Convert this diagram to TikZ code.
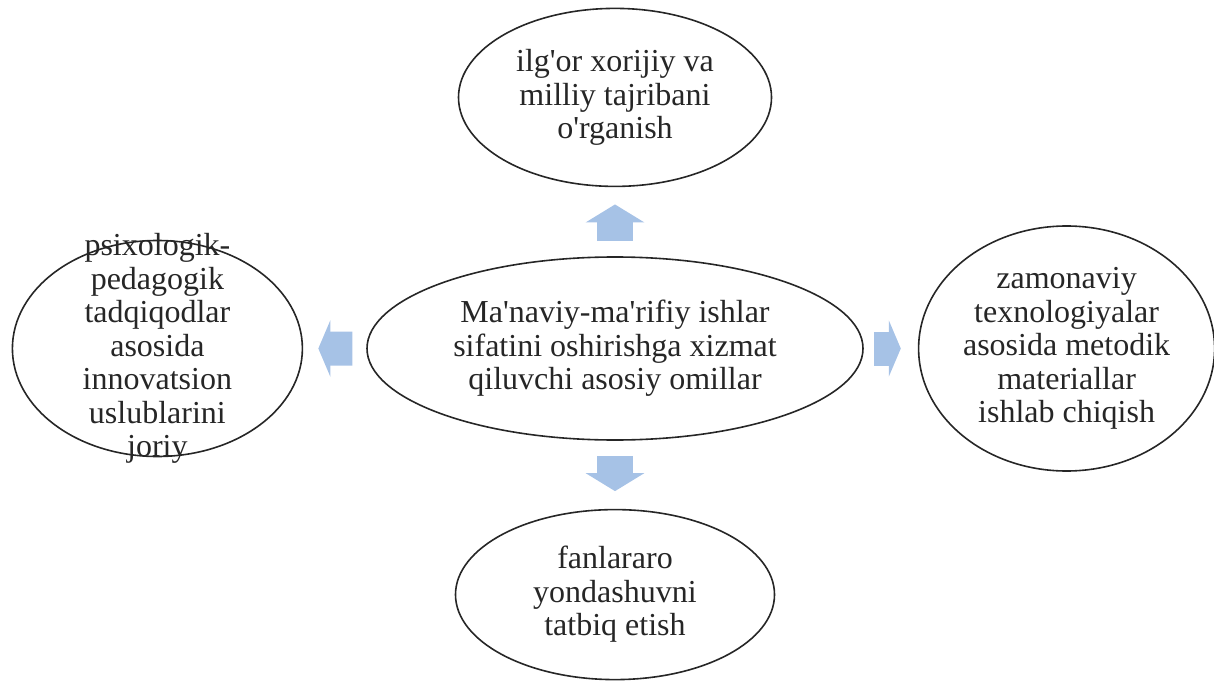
\documentclass[tikz,border=0pt]{standalone}
\usepackage{fontspec}
\setmainfont{Liberation Serif}[Ligatures=TeXOff]
\usepackage{xcolor}
\usepackage{tikz}
\usetikzlibrary{positioning,calc,shapes.geometric,arrows.meta}
\definecolor{arrowblue}{RGB}{166,194,230}

\begin{document}
\begin{tikzpicture}[
			oval/.style={
				draw=black!85, ellipse, line width=1.6pt, inner sep=0pt
			},
			txt/.style={
				align=center, inner sep=0pt, text=black!85,
				font=\fontsize{32pt}{33.5pt}\selectfont
			},
			varr/.style={
				draw=arrowblue, line width=36pt,
				-{Triangle[width=58pt, length=18pt]}
			},
			harr/.style={
				draw=arrowblue, line width=34pt,
				-{Triangle[width=56pt, length=12pt]}
			}
			]
			\useasboundingbox (0,0) rectangle (1214pt,681pt);
			
			%==================== 中心 ====================
			\node[oval, minimum width=496pt, minimum height=183pt] (ctr) at (615pt,332.5pt) {};
			\node[txt] (ctrtext) at (ctr) {
				Ma'naviy-ma'rifiy ishlar\\
				sifatini oshirishga xizmat\\
				qiluvchi asosiy omillar
			};
			
			%==================== 上 ====================
			\node[oval, minimum width=313pt, minimum height=178pt, above=69pt of ctr] (top) {};
			\node[txt] (toptext) at (top) {
				ilg'or xorijiy va\\
				milliy tajribani\\
				o'rganish
			};
			
			%==================== 下 ====================
			\node[oval, minimum width=319pt, minimum height=170pt, below=68pt of ctr] (bot) {};
			\node[txt] (bottext) at (bot) {
				fanlararo\\
				yondashuvni\\
				tatbiq etish
			};
			
			%==================== 左 ====================
			\node[oval, minimum width=290pt, minimum height=216pt, left=63pt of ctr] (lft) {};
			\node[txt] (lfttext) at (lft) {
				psixologik-\\
				pedagogik\\
				tadqiqodlar\\
				asosida\\
				innovatsion\\
				uslublarini\\
				joriy
			};
			
			%==================== 右 ====================
			\node[oval, minimum width=296pt, minimum height=245pt, right=54pt of ctr] (rgt) {};
			\node[txt] (rgttext) at (rgt) {
				zamonaviy\\
				texnologiyalar\\
				asosida metodik\\
				materiallar\\
				ishlab chiqish
			};
			
			%==================== 箭头 ====================
			\draw[varr] ($(ctr.north)!0.22!(top.south)$) -- ($(ctr.north)!0.75!(top.south)$);
			\draw[varr] ($(ctr.south)!0.22!(bot.north)$) -- ($(ctr.south)!0.74!(bot.north)$);
			\draw[harr] ($(ctr.west)!0.22!(lft.east)$) -- ($(ctr.west)!0.76!(lft.east)$);
			\draw[harr] ($(ctr.east)!0.185!(rgt.west)$) -- ($(ctr.east)!0.685!(rgt.west)$);
			
		\end{tikzpicture}
\end{document}
